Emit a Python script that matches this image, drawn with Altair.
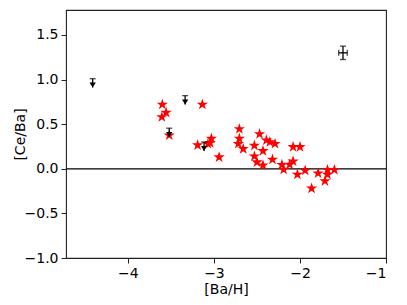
import altair as alt
import pandas as pd

# red stars
star_x = [-3.60, -3.556, -3.606, -3.52, -3.135, -3.19, -3.03, -3.045, -3.07, -2.94,
          -2.705, -2.705, -2.717, -2.66, -2.53, -2.47, -2.53, -2.50, -2.43, -2.43,
          -2.39, -2.35, -2.29, -2.32, -2.21, -2.19, -2.12, -2.08, -2.08, -2.00,
          -2.03, -1.94, -1.865, -1.79, -1.71, -1.68, -1.68, -1.60]
star_y = [0.72, 0.63, 0.58, 0.375, 0.72, 0.265, 0.34, 0.29, 0.28, 0.13,
          0.446, 0.34, 0.28, 0.223, 0.26, 0.39, 0.14, 0.074, 0.20, 0.04,
          0.32, 0.30, 0.28, 0.104, 0.045, -0.008, 0.048, 0.085, 0.245, 0.245,
          -0.064, -0.019, -0.22, -0.05, -0.138, -0.012, -0.064, -0.012]

# upper limits (black arrows)
lim_x = [-4.41, -3.335, -3.52, -3.115]
lim_y = [1.01, 0.82, 0.455, 0.30]
lim_len = 0.10

# representative error bar
err_x = [-1.5]
err_y = [1.30]
err_dx = [0.05]
err_dy = [0.075]

XDOM = [-4.72, -1.0]
YDOM = [-1.0, 1.78]

stars = pd.DataFrame({"x": star_x, "y": star_y})
lims = pd.DataFrame({"x": lim_x, "y": lim_y})
lims["y2"] = lims["y"] - lim_len
err = pd.DataFrame({"x": err_x, "y": err_y, "dx": err_dx, "dy": err_dy})
err["x1"] = err["x"] - err["dx"]
err["x2"] = err["x"] + err["dx"]
err["y1"] = err["y"] - err["dy"]
err["y2"] = err["y"] + err["dy"]

xs = alt.Scale(domain=XDOM, nice=False, zero=False)
ys = alt.Scale(domain=YDOM, nice=False, zero=False)

xax = alt.Axis(title="[Ba/H]", values=[-4, -3, -2, -1], format="d", grid=False)
yax = alt.Axis(title="[Ce/Ba]", values=[-1.0, -0.5, 0.0, 0.5, 1.0, 1.5], format=".1f", grid=False)

STAR = "M0,-1L0.2245,-0.309L0.951,-0.309L0.363,0.118L0.588,0.809L0,0.382L-0.588,0.809L-0.363,0.118L-0.951,-0.309L-0.2245,-0.309Z"
ARROW = "M-1,-1.6L1,-1.6L0,0Z"

zero = alt.Chart(pd.DataFrame({"y": [0.0]})).mark_rule(color="black", strokeWidth=1.2).encode(
    y=alt.Y("y:Q", scale=ys, axis=yax)
)

star_layer = alt.Chart(stars).mark_point(
    shape=STAR, filled=True, color="red", size=140, opacity=1, strokeWidth=0
).encode(
    x=alt.X("x:Q", scale=xs, axis=xax),
    y=alt.Y("y:Q", scale=ys, axis=yax),
)

lim_line = alt.Chart(lims).mark_rule(color="black", strokeWidth=1.3).encode(
    x=alt.X("x:Q", scale=xs), y=alt.Y("y:Q", scale=ys), y2="y2:Q"
)
lim_cap = alt.Chart(lims).mark_tick(color="black", orient="horizontal", size=6, thickness=1.3).encode(
    x=alt.X("x:Q", scale=xs), y=alt.Y("y:Q", scale=ys)
)
lim_head = alt.Chart(lims).mark_point(shape=ARROW, filled=True, color="black", size=40, opacity=1, strokeWidth=0).encode(
    x=alt.X("x:Q", scale=xs), y=alt.Y("y2:Q", scale=ys)
)

err_h = alt.Chart(err).mark_rule(color="black", strokeWidth=1.3).encode(
    x=alt.X("x1:Q", scale=xs), x2="x2:Q", y=alt.Y("y:Q", scale=ys)
)
err_v = alt.Chart(err).mark_rule(color="black", strokeWidth=1.3).encode(
    x=alt.X("x:Q", scale=xs), y=alt.Y("y1:Q", scale=ys), y2="y2:Q"
)
cap_xl = alt.Chart(err).mark_tick(color="black", orient="vertical", size=6, thickness=1.3).encode(
    x=alt.X("x1:Q", scale=xs), y=alt.Y("y:Q", scale=ys)
)
cap_xr = alt.Chart(err).mark_tick(color="black", orient="vertical", size=6, thickness=1.3).encode(
    x=alt.X("x2:Q", scale=xs), y=alt.Y("y:Q", scale=ys)
)
cap_yb = alt.Chart(err).mark_tick(color="black", orient="horizontal", size=6, thickness=1.3).encode(
    x=alt.X("x:Q", scale=xs), y=alt.Y("y1:Q", scale=ys)
)
cap_yt = alt.Chart(err).mark_tick(color="black", orient="horizontal", size=6, thickness=1.3).encode(
    x=alt.X("x:Q", scale=xs), y=alt.Y("y2:Q", scale=ys)
)

chart = alt.layer(
    zero, star_layer, lim_line, lim_cap, lim_head, err_h, err_v, cap_xl, cap_xr, cap_yb, cap_yt
).properties(
    width=320, height=248,
    autosize=alt.AutoSizeParams(type="none"),
    padding={"left": 58, "top": 2, "right": 8, "bottom": 40},
).configure_view(
    stroke="#222222", strokeWidth=1.1
).configure_axis(
    labelFont="DejaVu Sans", titleFont="DejaVu Sans",
    labelFontSize=14, titleFontSize=14, titleFontWeight="normal",
    labelColor="black", titleColor="black",
    domain=False, tickColor="#222222", tickSize=5, tickWidth=1,
    labelPadding=3,
).configure_axisX(
    titlePadding=2,
).configure_axisY(
    titlePadding=-3,
)

chart.save("out.html", embed_options={"renderer": "svg", "actions": False})
